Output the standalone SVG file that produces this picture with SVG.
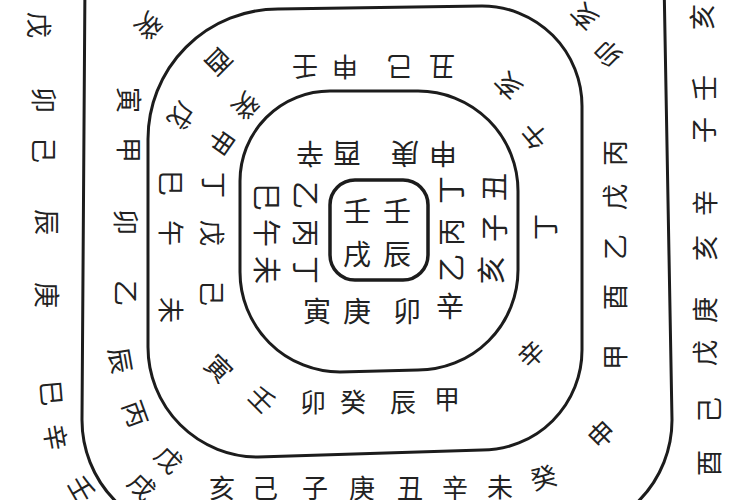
<svg xmlns="http://www.w3.org/2000/svg" width="750" height="500" viewBox="0 0 750 500">
<style>
.ln{fill:none;stroke:#1c1c1c;stroke-width:3;stroke-linejoin:round}
.t{font-family:"Noto Sans CJK SC","Noto Sans CJK JP",sans-serif;font-size:26px;fill:#222;text-anchor:middle;dominant-baseline:central}
.c{font-size:28px}
</style>
<rect width="750" height="500" fill="#fff"/>
<g id="lines">
<path class="ln" d="M85,-20 L82,420 A115,115 0 0 0 197,535 L557,535 A115,115 0 0 0 672,420 L664,-20"/>
<path class="ln" d="M278,9 L482,6 A100,100 0 0 1 582,106 L582,350 A100,100 0 0 1 482,450 L258,457 A110,110 0 0 1 148,347 L148,139 A130,130 0 0 1 278,9 Z"/>
<path class="ln" d="M330,91 L418,91 A100,100 0 0 1 518,191 L518,270 A100,100 0 0 1 418,370 L340,372 A100,100 0 0 1 240,272 L240,181 A90,90 0 0 1 330,91 Z"/>
<rect class="ln" x="330" y="180" width="98" height="100" rx="25" style="stroke-width:3.5"/>
</g>
<g id="center">
<text class="t c" x="357" y="210">壬</text>
<text class="t c" x="397" y="210">壬</text>
<text class="t c" x="357" y="253">戌</text>
<text class="t c" x="397" y="253">辰</text>
</g>
<g id="ring-inner">
<text class="t c" transform="translate(310,155) rotate(180)">辛</text>
<text class="t c" transform="translate(347,155) rotate(180)">酉</text>
<text class="t c" transform="translate(405,155) rotate(180)">庚</text>
<text class="t c" transform="translate(443,155) rotate(180)">申</text>
<text class="t c" transform="translate(268,197) rotate(90)">巳</text>
<text class="t c" transform="translate(268,233) rotate(90)">午</text>
<text class="t c" transform="translate(268,270) rotate(90)">未</text>
<text class="t c" transform="translate(307,195) rotate(90)">乙</text>
<text class="t c" transform="translate(307,233) rotate(90)">丙</text>
<text class="t c" transform="translate(307,270) rotate(90)">丁</text>
<text class="t c" transform="translate(450,190) rotate(-90)">丁</text>
<text class="t c" transform="translate(450,232) rotate(-90)">丙</text>
<text class="t c" transform="translate(450,268) rotate(-90)">乙</text>
<text class="t c" transform="translate(493,187) rotate(-90)">丑</text>
<text class="t c" transform="translate(493,228) rotate(-90)">子</text>
<text class="t c" transform="translate(490,270) rotate(-90)">亥</text>
<text class="t c" x="317" y="310">寅</text>
<text class="t c" x="357" y="310">庚</text>
<text class="t c" x="407" y="310">卯</text>
<text class="t c" x="450" y="305">辛</text>
</g>
<g id="ring-middle">
<text class="t" transform="translate(305,68) rotate(180)">壬</text>
<text class="t" transform="translate(345,68) rotate(180)">申</text>
<text class="t" transform="translate(400,68) rotate(180)">己</text>
<text class="t" transform="translate(442,68) rotate(180)">丑</text>
<text class="t" transform="translate(220,63) rotate(135)">酉</text>
<text class="t" transform="translate(183,117) rotate(125)">戊</text>
<text class="t" transform="translate(247,107) rotate(135)">癸</text>
<text class="t" transform="translate(223,143) rotate(125)">甲</text>
<text class="t" transform="translate(172,183) rotate(90)">巳</text>
<text class="t" transform="translate(172,233) rotate(90)">午</text>
<text class="t" transform="translate(172,310) rotate(90)">未</text>
<text class="t" transform="translate(215,185) rotate(90)">丁</text>
<text class="t" transform="translate(213,233) rotate(90)">戊</text>
<text class="t" transform="translate(213,293) rotate(90)">己</text>
<text class="t" transform="translate(220,367) rotate(45)">寅</text>
<text class="t" transform="translate(263,398) rotate(45)">壬</text>
<text class="t" x="313" y="400">卯</text>
<text class="t" x="353" y="400">癸</text>
<text class="t" x="403" y="400">辰</text>
<text class="t" x="447" y="397">甲</text>
<text class="t" transform="translate(530,353) rotate(-45)">辛</text>
<text class="t" transform="translate(543,227) rotate(-90)">丁</text>
<text class="t" transform="translate(533,137) rotate(-130)">午</text>
<text class="t" transform="translate(507,87) rotate(-135)">亥</text>
</g>
<g id="ring-outer">
<text class="t" transform="translate(150,27) rotate(135)">癸</text>
<text class="t" transform="translate(130,100) rotate(90)">寅</text>
<text class="t" transform="translate(130,150) rotate(90)">甲</text>
<text class="t" transform="translate(127,222) rotate(90)">卯</text>
<text class="t" transform="translate(127,293) rotate(90)">乙</text>
<text class="t" transform="translate(122,360) rotate(80)">辰</text>
<text class="t" transform="translate(137,413) rotate(70)">丙</text>
<text class="t" transform="translate(170,458) rotate(45)">戊</text>
<text class="t" transform="translate(143,485) rotate(45)">戌</text>
<text class="t" x="222" y="486">亥</text>
<text class="t" x="265" y="486">己</text>
<text class="t" x="315" y="486">子</text>
<text class="t" x="362" y="486">庚</text>
<text class="t" x="410" y="486">丑</text>
<text class="t" x="455" y="486">辛</text>
<text class="t" x="500" y="485">未</text>
<text class="t" transform="translate(543,476) rotate(-15)">癸</text>
<text class="t" transform="translate(600,433) rotate(-45)">申</text>
<text class="t" transform="translate(613,357) rotate(-90)">甲</text>
<text class="t" transform="translate(613,297) rotate(-90)">酉</text>
<text class="t" transform="translate(613,247) rotate(-90)">乙</text>
<text class="t" transform="translate(613,197) rotate(-90)">戊</text>
<text class="t" transform="translate(613,153) rotate(-90)">丙</text>
<text class="t" transform="translate(607,55) rotate(-135)">卯</text>
<text class="t" transform="translate(583,18) rotate(-135)">亥</text>
</g>
<g id="outside">
<text class="t" transform="translate(40,25) rotate(90)">戊</text>
<text class="t" transform="translate(45,100) rotate(90)">卯</text>
<text class="t" transform="translate(45,150) rotate(90)">己</text>
<text class="t" transform="translate(48,222) rotate(90)">辰</text>
<text class="t" transform="translate(48,295) rotate(90)">庚</text>
<text class="t" transform="translate(53,393) rotate(85)">巳</text>
<text class="t" transform="translate(57,437) rotate(80)">辛</text>
<text class="t" transform="translate(83,488) rotate(60)">壬</text>
<text class="t" transform="translate(700,17) rotate(-90)">亥</text>
<text class="t" transform="translate(702,88) rotate(-90)">壬</text>
<text class="t" transform="translate(702,130) rotate(-90)">子</text>
<text class="t" transform="translate(703,203) rotate(-90)">辛</text>
<text class="t" transform="translate(703,248) rotate(-90)">亥</text>
<text class="t" transform="translate(703,310) rotate(-90)">庚</text>
<text class="t" transform="translate(703,353) rotate(-90)">戊</text>
<text class="t" transform="translate(707,410) rotate(-90)">己</text>
<text class="t" transform="translate(707,463) rotate(-90)">酉</text>
</g>
</svg>
